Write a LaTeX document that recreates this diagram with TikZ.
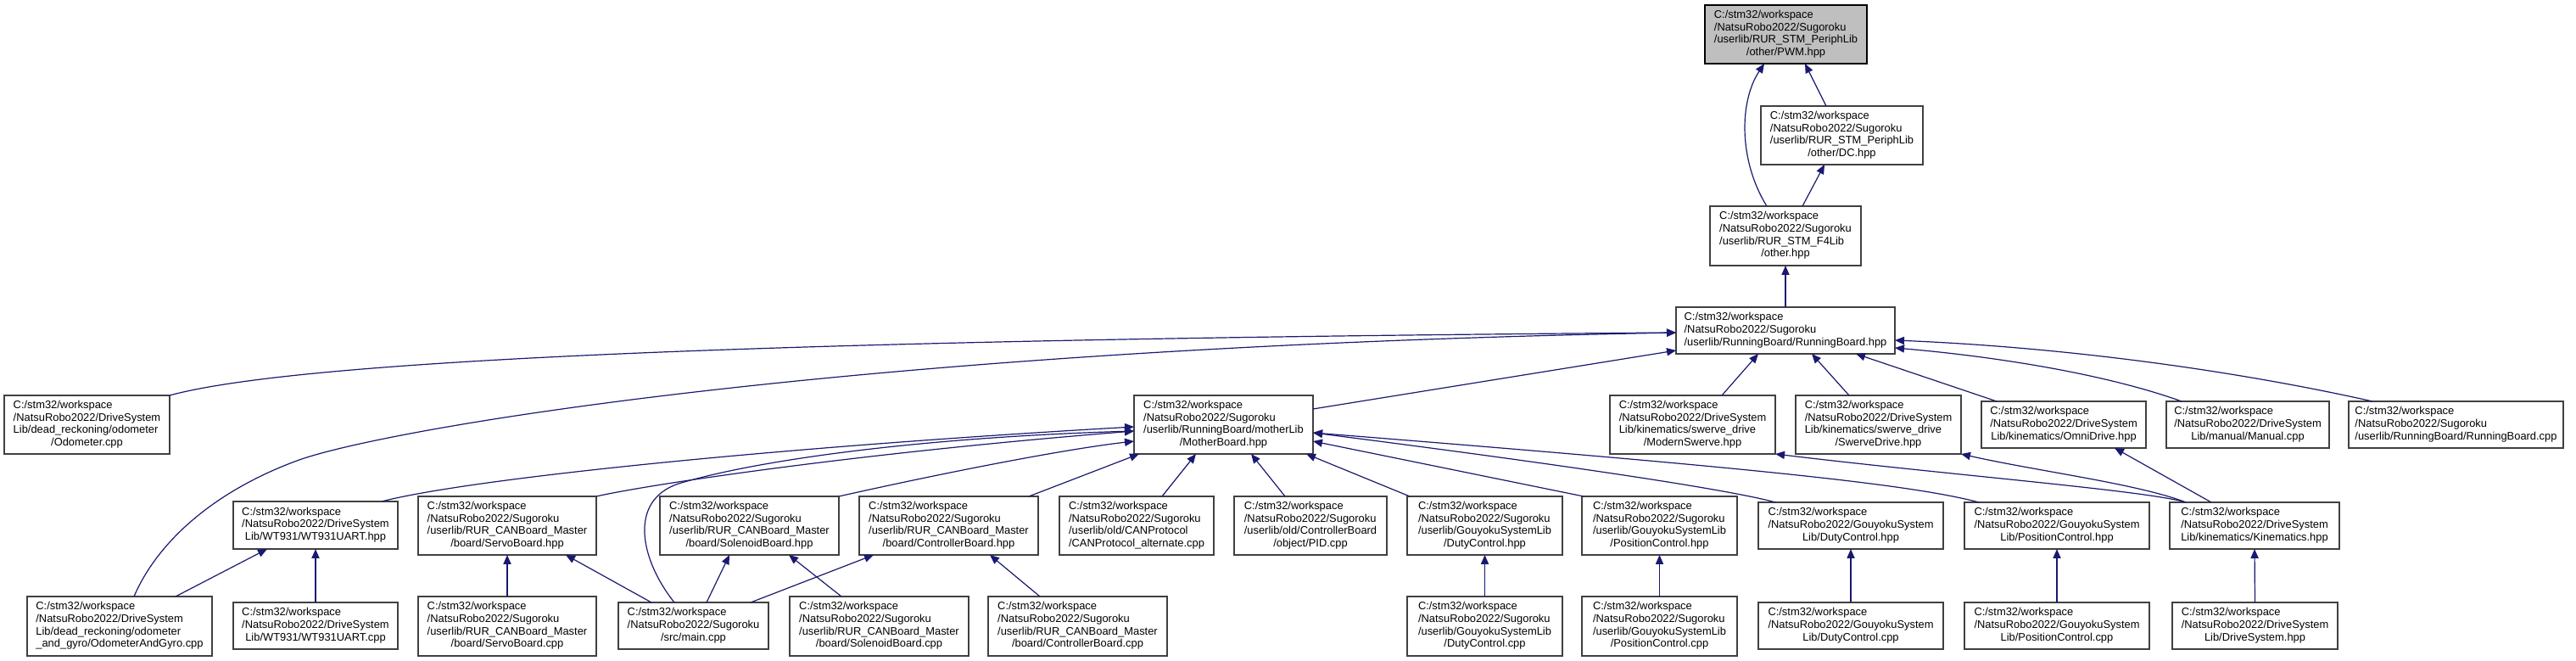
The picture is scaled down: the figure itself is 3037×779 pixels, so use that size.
\documentclass[tikz,border=0pt]{standalone}
\usepackage{fontspec}
\setmainfont{Liberation Sans}
\usetikzlibrary{arrows.meta}
\definecolor{edgec}{HTML}{191970}
\definecolor{pwmfill}{HTML}{BFBFBF}
\newcommand{\lb}[2]{\begin{tabular}{@{}l@{}}#1\\\multicolumn{1}{@{}c@{}}{#2}\end{tabular}}
\newcommand{\bx}[7][]{\node[box,#1,minimum width={(#5-#3)*0.5pt},minimum height={(#6-#4)*0.5pt}] (#2) at ({(#3+#5)/2},{(#4+#6)/2}) {#7};}
\tikzset{
  box/.style={draw=black!75, line width=0.65pt, fill=white, inner sep=0pt, outer sep=0pt,
    font=\fontsize{6.45}{7.35}\selectfont},
  dep/.style={draw=edgec, line width=0.6pt, -{Triangle[length=5.5pt,width=4.6pt]}}
}
\begin{document}
\begin{tikzpicture}[x=0.5pt,y=-0.5pt]
\fill[white] (0,0) rectangle (3037,779);
\useasboundingbox (0,0) rectangle (3037,779);
% row 0-3
\bx[fill=pwmfill,draw=black]{pwm}{2010}{6}{2201}{75}{\lb{C:/stm32/workspace\\/NatsuRobo2022/Sugoroku\\/userlib/RUR\_STM\_PeriphLib}{/other/PWM.hpp}}
\bx{dc}{2076}{125}{2267}{194}{\lb{C:/stm32/workspace\\/NatsuRobo2022/Sugoroku\\/userlib/RUR\_STM\_PeriphLib}{/other/DC.hpp}}
\bx{oth}{2016}{243}{2194}{313}{\lb{C:/stm32/workspace\\/NatsuRobo2022/Sugoroku\\/userlib/RUR\_STM\_F4Lib}{/other.hpp}}
\bx{rb}{1976}{362}{2234}{417}{\lb{C:/stm32/workspace\\/NatsuRobo2022/Sugoroku}{/userlib/RunningBoard/RunningBoard.hpp}}
% row 4
\bx{odo}{5}{466}{200}{535}{\lb{C:/stm32/workspace\\/NatsuRobo2022/DriveSystem\\Lib/dead\_reckoning/odometer}{/Odometer.cpp}}
\bx{mb}{1337}{466}{1548}{535}{\lb{C:/stm32/workspace\\/NatsuRobo2022/Sugoroku\\/userlib/RunningBoard/motherLib}{/MotherBoard.hpp}}
\bx{ms}{1898}{466}{2093}{535}{\lb{C:/stm32/workspace\\/NatsuRobo2022/DriveSystem\\Lib/kinematics/swerve\_drive}{/ModernSwerve.hpp}}
\bx{sd}{2117}{466}{2312}{535}{\lb{C:/stm32/workspace\\/NatsuRobo2022/DriveSystem\\Lib/kinematics/swerve\_drive}{/SwerveDrive.hpp}}
\bx{od}{2336}{473}{2530}{528}{\lb{C:/stm32/workspace\\/NatsuRobo2022/DriveSystem}{Lib/kinematics/OmniDrive.hpp}}
\bx{man}{2554}{473}{2746}{528}{\lb{C:/stm32/workspace\\/NatsuRobo2022/DriveSystem}{Lib/manual/Manual.cpp}}
\bx{rbc}{2769}{473}{3022}{528}{\lb{C:/stm32/workspace\\/NatsuRobo2022/Sugoroku}{/userlib/RunningBoard/RunningBoard.cpp}}
% row 5
\bx{wth}{275}{591}{469}{647}{\lb{C:/stm32/workspace\\/NatsuRobo2022/DriveSystem}{Lib/WT931/WT931UART.hpp}}
\bx{sbh}{493}{585}{703}{654}{\lb{C:/stm32/workspace\\/NatsuRobo2022/Sugoroku\\/userlib/RUR\_CANBoard\_Master}{/board/ServoBoard.hpp}}
\bx{solh}{778}{585}{989}{654}{\lb{C:/stm32/workspace\\/NatsuRobo2022/Sugoroku\\/userlib/RUR\_CANBoard\_Master}{/board/SolenoidBoard.hpp}}
\bx{cbh}{1013}{585}{1224}{654}{\lb{C:/stm32/workspace\\/NatsuRobo2022/Sugoroku\\/userlib/RUR\_CANBoard\_Master}{/board/ControllerBoard.hpp}}
\bx{can}{1249}{585}{1431}{654}{\lb{C:/stm32/workspace\\/NatsuRobo2022/Sugoroku\\/userlib/old/CANProtocol}{/CANProtocol\_alternate.cpp}}
\bx{pid}{1455}{585}{1635}{654}{\lb{C:/stm32/workspace\\/NatsuRobo2022/Sugoroku\\/userlib/old/ControllerBoard}{/object/PID.cpp}}
\bx{gdh}{1659}{585}{1842}{654}{\lb{C:/stm32/workspace\\/NatsuRobo2022/Sugoroku\\/userlib/GouyokuSystemLib}{/DutyControl.hpp}}
\bx{gph}{1865}{585}{2048}{654}{\lb{C:/stm32/workspace\\/NatsuRobo2022/Sugoroku\\/userlib/GouyokuSystemLib}{/PositionControl.hpp}}
\bx{ldh}{2073}{592}{2291}{647}{\lb{C:/stm32/workspace\\/NatsuRobo2022/GouyokuSystem}{Lib/DutyControl.hpp}}
\bx{lph}{2316}{592}{2534}{647}{\lb{C:/stm32/workspace\\/NatsuRobo2022/GouyokuSystem}{Lib/PositionControl.hpp}}
\bx{kin}{2558}{592}{2758}{647}{\lb{C:/stm32/workspace\\/NatsuRobo2022/DriveSystem}{Lib/kinematics/Kinematics.hpp}}
% row 6
\bx{oag}{32}{703}{250}{773}{\lb{C:/stm32/workspace\\/NatsuRobo2022/DriveSystem\\Lib/dead\_reckoning/odometer}{\_and\_gyro/OdometerAndGyro.cpp}}
\bx{wtc}{275}{710}{469}{765}{\lb{C:/stm32/workspace\\/NatsuRobo2022/DriveSystem}{Lib/WT931/WT931UART.cpp}}
\bx{sbc}{493}{703}{703}{773}{\lb{C:/stm32/workspace\\/NatsuRobo2022/Sugoroku\\/userlib/RUR\_CANBoard\_Master}{/board/ServoBoard.cpp}}
\bx{main}{729}{710}{906}{765}{\lb{C:/stm32/workspace\\/NatsuRobo2022/Sugoroku}{/src/main.cpp}}
\bx{solc}{931}{703}{1142}{773}{\lb{C:/stm32/workspace\\/NatsuRobo2022/Sugoroku\\/userlib/RUR\_CANBoard\_Master}{/board/SolenoidBoard.cpp}}
\bx{cbc}{1165}{703}{1376}{773}{\lb{C:/stm32/workspace\\/NatsuRobo2022/Sugoroku\\/userlib/RUR\_CANBoard\_Master}{/board/ControllerBoard.cpp}}
\bx{gdc}{1659}{703}{1842}{773}{\lb{C:/stm32/workspace\\/NatsuRobo2022/Sugoroku\\/userlib/GouyokuSystemLib}{/DutyControl.cpp}}
\bx{gpc}{1865}{703}{2048}{773}{\lb{C:/stm32/workspace\\/NatsuRobo2022/Sugoroku\\/userlib/GouyokuSystemLib}{/PositionControl.cpp}}
\bx{ldc}{2073}{710}{2291}{765}{\lb{C:/stm32/workspace\\/NatsuRobo2022/GouyokuSystem}{Lib/DutyControl.cpp}}
\bx{lpc}{2316}{710}{2534}{765}{\lb{C:/stm32/workspace\\/NatsuRobo2022/GouyokuSystem}{Lib/PositionControl.cpp}}
\bx{ds}{2561}{710}{2756}{765}{\lb{C:/stm32/workspace\\/NatsuRobo2022/DriveSystem}{Lib/DriveSystem.hpp}}
% edges
\draw[dep] (dc.north -| 2153,0) -- (pwm.south -| 2128,0);
\draw[dep] (oth.north -| 2083,0) .. controls (2050,190) and (2050,120) .. (pwm.south -| 2080,0);
\draw[dep] (oth.north -| 2125,0) -- (dc.south -| 2151,0);
\draw[dep] (rb.north) -- (oth.south);
\draw[dep] (odo.north east) .. controls (350,425) and (900,400) .. (rb.west |- 0,392);
\draw[dep] (oag.north -| 158,0) .. controls (185,640) and (250,580) .. (350,543) .. controls (450,506) and (1000,410) .. (rb.west |- 0,392);
\draw[dep] (mb.east |- 0,482) -- (rb.west |- 0,413);
\draw[dep] (ms.north -| 2030,0) -- (rb.south -| 2073,0);
\draw[dep] (sd.north -| 2180,0) -- (rb.south -| 2136,0);
\draw[dep] (od.north -| 2354,0) -- (rb.south -| 2188,0);
\draw[dep] (man.north -| 2572,0) .. controls (2480,440) and (2350,420) .. (rb.east |- 0,410);
\draw[dep] (rbc.north -| 2797,0) .. controls (2650,440) and (2450,410) .. (rb.east |- 0,401);
\draw[dep] (oag.north -| 207,0) -- (wth.south -| 315,0);
\draw[dep] (wtc.north) -- (wth.south);
\draw[dep] (sbc.north) -- (sbh.south);
\draw[dep] (main.north -| 768,0) -- (sbh.south -| 667,0);
\draw[dep] (main.north -| 833,0) -- (solh.south -| 860,0);
\draw[dep] (solc.north -| 992,0) -- (solh.south -| 930,0);
\draw[dep] (main.north -| 885,0) -- (cbh.south -| 1030,0);
\draw[dep] (cbc.north -| 1226,0) -- (cbh.south -| 1167,0);
\draw[dep] (main.north -| 795,0) .. controls (755,660) and (740,590) .. (800,570) .. controls (900,540) and (1100,515) .. (mb.west |- 0,508);
\draw[dep] (wth.north -| 450,0) .. controls (550,565) and (900,528) .. (mb.west |- 0,503);
\draw[dep] (sbh.north east) .. controls (760,572) and (1000,535) .. (mb.west |- 0,508);
\draw[dep] (solh.north east) .. controls (1100,560) and (1250,530) .. (mb.west |- 0,520);
\draw[dep] (cbh.north -| 1213,0) -- (mb.south -| 1343,0);
\draw[dep] (can.north -| 1370,0) -- (mb.south -| 1410,0);
\draw[dep] (pid.north -| 1515,0) -- (mb.south -| 1475,0);
\draw[dep] (gdh.north -| 1662,0) -- (mb.south -| 1540,0);
\draw[dep] (gph.north -| 1867,0) -- (mb.east |- 0,520);
\draw[dep] (ldh.north -| 2093,0) .. controls (2050,580) and (1900,555) .. (mb.east |- 0,510);
\draw[dep] (lph.north -| 2333,0) .. controls (2250,570) and (2050,550) .. (mb.east |- 0,510);
\draw[dep] (gdc.north) -- (gdh.south);
\draw[dep] (gpc.north) -- (gph.south);
\draw[dep] (ldc.north) -- (ldh.south);
\draw[dep] (lpc.north) -- (lph.south);
\draw[dep] (ds.north) -- (kin.south);
\draw[dep] (kin.north -| 2577,0) .. controls (2530,578) and (2300,560) .. (ms.south east);
\draw[dep] (kin.north -| 2577,0) .. controls (2520,570) and (2400,555) .. (sd.south east);
\draw[dep] (kin.north -| 2607,0) -- (od.south -| 2493,0);
\end{tikzpicture}
\end{document}
